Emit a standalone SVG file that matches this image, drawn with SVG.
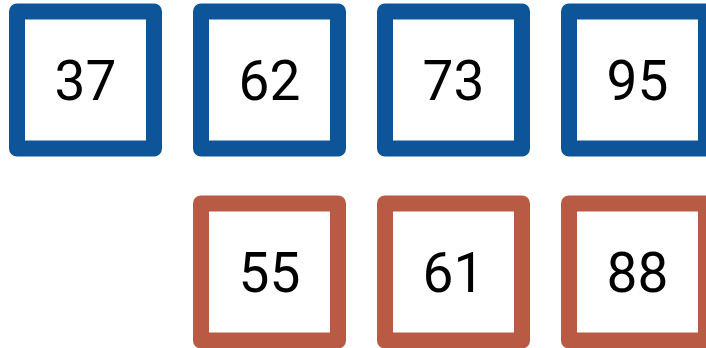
<svg xmlns="http://www.w3.org/2000/svg" width="706" height="348" viewBox="0 0 706 348">
<style>
.b{fill:#fff;stroke:#0d5598;stroke-width:16;stroke-linejoin:round}
.r{fill:#fff;stroke:#b85a44;stroke-width:16;stroke-linejoin:round}
text{font-family:Roboto,"Liberation Sans",sans-serif;font-size:55px;fill:#000;text-anchor:middle}
</style>
<rect width="706" height="348" fill="#fff"/>
<g id="n37"><rect class="b" x="17" y="11.5" width="137" height="137"/><text x="85.5" y="100">37</text></g>
<g id="n62"><rect class="b" x="201" y="11.5" width="137" height="137"/><text x="269.5" y="100">62</text></g>
<g id="n73"><rect class="b" x="385" y="11.5" width="137" height="137"/><text x="453.5" y="100">73</text></g>
<g id="n95"><rect class="b" x="569" y="11.5" width="137" height="137"/><text x="637.5" y="100">95</text></g>
<g id="n55"><rect class="r" x="201" y="203.5" width="137" height="137"/><text x="269.5" y="292">55</text></g>
<g id="n61"><rect class="r" x="385" y="203.5" width="137" height="137"/><text x="453.5" y="292">61</text></g>
<g id="n88"><rect class="r" x="569" y="203.5" width="137" height="137"/><text x="637.5" y="292">88</text></g>
<g id="connectors"></g>
</svg>
